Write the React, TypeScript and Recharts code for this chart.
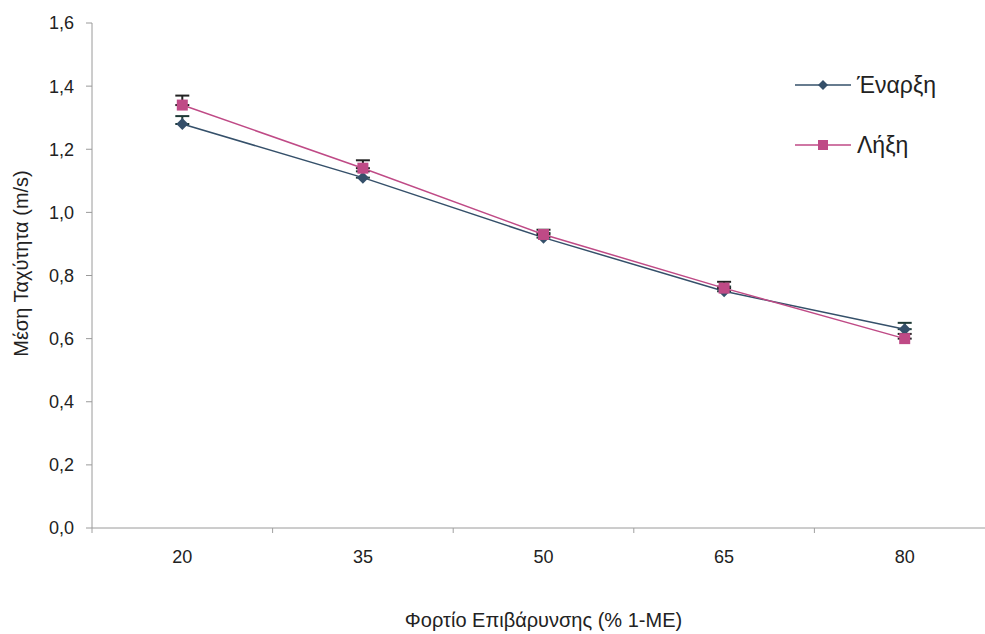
import { LineChart, Line, XAxis, YAxis, ErrorBar } from "recharts";

const loads = ["20", "35", "50", "65", "80"];
const startSpeed = [1.28, 1.11, 0.92, 0.75, 0.63];
const endSpeed = [1.34, 1.14, 0.93, 0.76, 0.6];
// only the upper part of the error bars is visible in the source
const startErr = [0.025, 0.02, 0.015, 0.015, 0.02];
const endErr = [0.03, 0.025, 0.015, 0.02, 0.015];
const yTicks = [0, 0.2, 0.4, 0.6, 0.8, 1.0, 1.2, 1.4, 1.6];

const START_COLOR = "#35506a";
const END_COLOR = "#bf4a86";
const FONT = "'Liberation Sans', Arial, sans-serif";

const data = loads.map((load, i) => ({
  load,
  start: startSpeed[i],
  end: endSpeed[i],
  startErr: [0, startErr[i]],
  endErr: [0, endErr[i]],
}));

const Diamond = (props: any) => {
  const { cx, cy } = props;
  if (cx == null || cy == null) return null;
  return <path d={`M${cx},${cy - 6}L${cx + 6},${cy}L${cx},${cy + 6}L${cx - 6},${cy}Z`} fill={START_COLOR} />;
};

const Square = (props: any) => {
  const { cx, cy } = props;
  if (cx == null || cy == null) return null;
  return <rect x={cx - 5.5} y={cy - 5.5} width={11} height={11} fill={END_COLOR} />;
};

function XTick(props: any) {
  const { x, y, payload, width, visibleTicksCount, index } = props;
  const band = width && visibleTicksCount ? width / visibleTicksCount : 0;
  const axisY = y - 22;
  return (
    <g>
      {band > 0 && (
        <line x1={x - band / 2} x2={x - band / 2} y1={axisY} y2={axisY + 5} stroke="#a0a0a0" />
      )}
      {band > 0 && index === visibleTicksCount - 1 && (
        <line x1={x + band / 2} x2={x + band / 2} y1={axisY} y2={axisY + 5} stroke="#a0a0a0" />
      )}
      <text x={x} y={y} dy="0.71em" textAnchor="middle" fill="#222" fontSize={18} fontFamily={FONT}>
        {payload.value}
      </text>
    </g>
  );
}

function LegendBox() {
  const items = [
    { name: "Έναρξη", color: START_COLOR, shape: "diamond" },
    { name: "Λήξη", color: END_COLOR, shape: "square" },
  ];
  return (
    <div style={{ position: "absolute", left: 795, top: 70, fontFamily: FONT }}>
      {items.map((it) => (
        <div key={it.name} style={{ display: "flex", alignItems: "center", height: 30, marginBottom: 30 }}>
          <svg width={58} height={14}>
            <line x1={0} x2={56} y1={7} y2={7} stroke={it.color} strokeWidth={1.5} />
            {it.shape === "diamond" ? (
              <path d="M28,2L33,7L28,12L23,7Z" fill={it.color} />
            ) : (
              <rect x={23} y={2} width={10} height={10} fill={it.color} />
            )}
          </svg>
          <span style={{ fontSize: 23, color: "#222", marginLeft: 4 }}>{it.name}</span>
        </div>
      ))}
    </div>
  );
}

export default function App() {
  return (
    <div style={{ position: "absolute", left: 0, top: 0, width: 985, height: 634, overflow: "hidden", background: "#fff" }}>
      <LineChart width={1000} height={634} data={data} margin={{ top: 23, right: 5, bottom: 76, left: 32 }}>
        <XAxis
          dataKey="load"
          scale="band"
          height={30}
          stroke="#9a9a9a"
          tickLine={false}
          tickMargin={16}
          tick={<XTick />}
          label={{
            value: "Φορτίο Επιβάρυνσης (% 1-ΜΕ)",
            position: "center",
            dy: 77,
            style: { fontSize: 20, fontFamily: FONT, fill: "#222" },
          }}
        />
        <YAxis
          domain={[0, 1.6]}
          ticks={yTicks}
          interval={0}
          stroke="#9a9a9a"
          tickSize={6}
          tickMargin={12}
          tick={{ fontSize: 18, fontFamily: FONT, fill: "#222" }}
          tickFormatter={(v: number) => v.toFixed(1).replace(".", ",")}
          label={{
            value: "Μέση Ταχύτητα (m/s)",
            angle: -90,
            position: "center",
            dx: -41,
            dy: -12,
            style: { fontSize: 20, fontFamily: FONT, fill: "#222", textAnchor: "middle" },
          }}
        />
        <Line
          dataKey="start"
          name="Έναρξη"
          stroke={START_COLOR}
          strokeWidth={1.5}
          dot={<Diamond />}
          activeDot={false}
          isAnimationActive={false}
        >
          <ErrorBar dataKey="startErr" width={7} stroke="#1e3a36" strokeWidth={2} direction="y" />
        </Line>
        <Line
          dataKey="end"
          name="Λήξη"
          stroke={END_COLOR}
          strokeWidth={1.5}
          dot={<Square />}
          activeDot={false}
          isAnimationActive={false}
        >
          <ErrorBar dataKey="endErr" width={7} stroke="#222" strokeWidth={2} direction="y" />
        </Line>
      </LineChart>
      <LegendBox />
    </div>
  );
}
